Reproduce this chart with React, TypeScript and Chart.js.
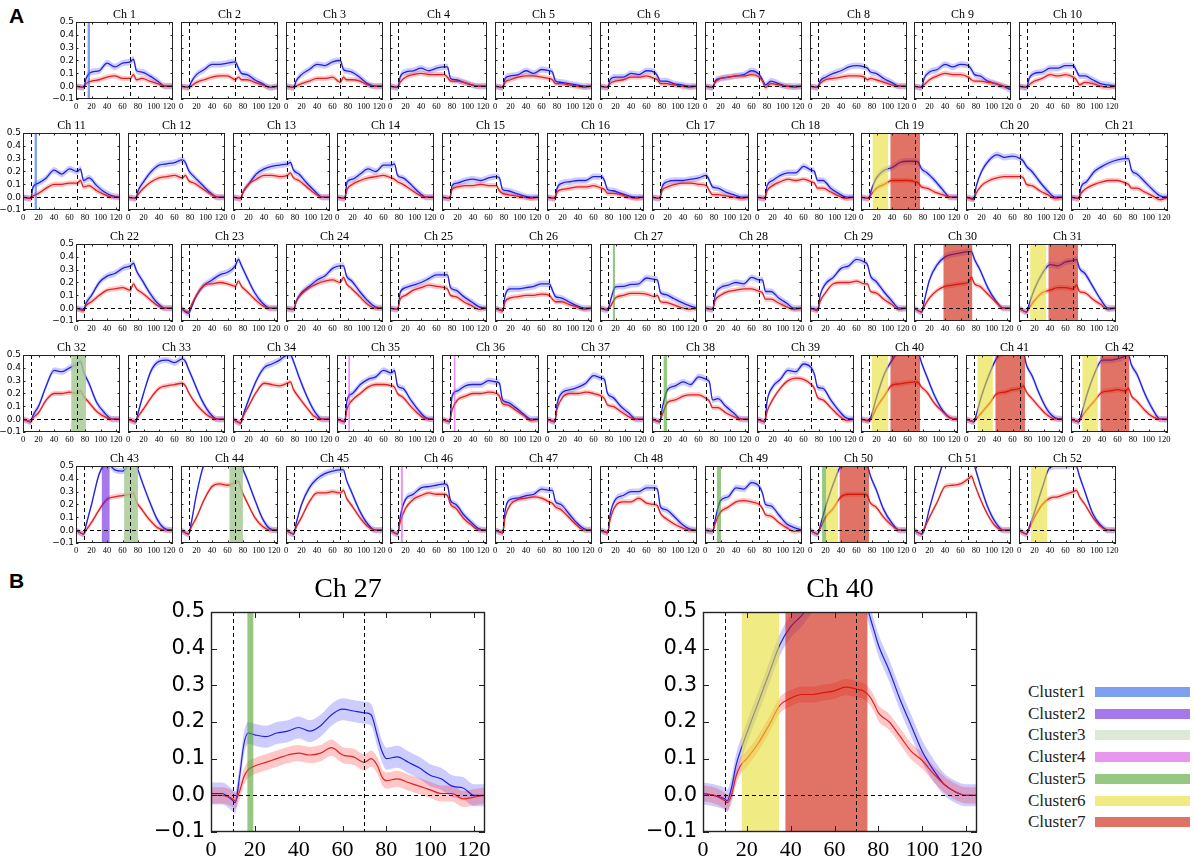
import React, { useEffect, useRef } from 'react';
import { Chart, registerables } from 'chart.js';

Chart.register(...registerables);

// ---- data ----
// sample times (s) for the small multiples
const SAMPLE_X = [0, 10, 13, 20, 30, 40, 50, 60, 70, 74, 78, 85, 95, 105, 115, 125];

// mean response per channel (Ch 1 .. Ch 52)
const blueMeans: number[][] = [
  [0, -0.01, 0.06, 0.11, 0.12, 0.18, 0.15, 0.18, 0.19, 0.21, 0.12, 0.11, 0.08, 0.04, 0.0, 0],
  [0, -0.01, 0.03, 0.09, 0.13, 0.17, 0.17, 0.18, 0.19, 0.14, 0.10, 0.09, 0.05, 0.02, -0.01, 0],
  [0, -0.01, 0.04, 0.09, 0.13, 0.17, 0.16, 0.19, 0.20, 0.13, 0.12, 0.11, 0.07, 0.02, 0.0, 0],
  [0, -0.01, 0.07, 0.11, 0.12, 0.14, 0.12, 0.14, 0.15, 0.15, 0.06, 0.05, 0.03, 0.01, 0.0, 0],
  [0, -0.01, 0.06, 0.08, 0.09, 0.12, 0.10, 0.13, 0.12, 0.11, 0.04, 0.03, 0.02, 0.01, 0.0, 0],
  [0, -0.01, 0.05, 0.07, 0.07, 0.10, 0.09, 0.12, 0.11, 0.08, 0.04, 0.04, 0.02, 0.01, 0.0, 0],
  [0, -0.01, 0.04, 0.06, 0.07, 0.08, 0.09, 0.12, 0.09, 0.05, 0.01, 0.04, 0.02, 0.0, 0.0, 0],
  [0, -0.01, 0.04, 0.07, 0.10, 0.12, 0.15, 0.16, 0.15, 0.14, 0.11, 0.10, 0.06, 0.03, 0.0, 0],
  [0, -0.01, 0.06, 0.11, 0.13, 0.17, 0.15, 0.17, 0.16, 0.13, 0.09, 0.08, 0.04, 0.02, 0.0, -0.03],
  [0, -0.01, 0.06, 0.10, 0.11, 0.14, 0.14, 0.16, 0.16, 0.12, 0.08, 0.08, 0.05, 0.02, 0.01, 0],
  [0, -0.01, 0.08, 0.11, 0.15, 0.21, 0.18, 0.22, 0.20, 0.22, 0.13, 0.15, 0.09, 0.04, 0.01, 0],
  [0, -0.01, 0.05, 0.12, 0.20, 0.25, 0.26, 0.27, 0.29, 0.27, 0.21, 0.16, 0.10, 0.04, 0.0, 0],
  [0, -0.01, 0.04, 0.10, 0.18, 0.22, 0.24, 0.25, 0.26, 0.27, 0.21, 0.18, 0.11, 0.05, 0.0, 0],
  [0, -0.01, 0.12, 0.14, 0.18, 0.22, 0.20, 0.25, 0.25, 0.26, 0.17, 0.15, 0.10, 0.04, 0.0, 0],
  [0, -0.01, 0.09, 0.11, 0.13, 0.14, 0.13, 0.15, 0.16, 0.15, 0.06, 0.05, 0.03, 0.01, 0.0, 0],
  [0, -0.01, 0.07, 0.11, 0.12, 0.13, 0.13, 0.16, 0.16, 0.13, 0.06, 0.05, 0.03, 0.01, 0.0, 0],
  [0, -0.01, 0.08, 0.12, 0.13, 0.13, 0.14, 0.15, 0.17, 0.13, 0.08, 0.07, 0.04, 0.02, 0.0, 0],
  [0, -0.01, 0.09, 0.13, 0.17, 0.19, 0.19, 0.24, 0.21, 0.20, 0.13, 0.13, 0.07, 0.03, 0.0, 0],
  [0, -0.01, 0.05, 0.15, 0.21, 0.23, 0.27, 0.28, 0.28, 0.27, 0.22, 0.19, 0.13, 0.06, 0.0, 0],
  [0, -0.01, 0.08, 0.20, 0.29, 0.33, 0.31, 0.32, 0.30, 0.28, 0.24, 0.20, 0.12, 0.05, 0.0, 0],
  [0, -0.01, 0.08, 0.12, 0.20, 0.24, 0.27, 0.29, 0.30, 0.30, 0.21, 0.18, 0.12, 0.06, 0.01, 0],
  [0, -0.01, 0.04, 0.10, 0.20, 0.25, 0.27, 0.31, 0.33, 0.35, 0.29, 0.22, 0.12, 0.04, 0.0, 0],
  [0, -0.04, 0.0, 0.10, 0.18, 0.22, 0.26, 0.28, 0.33, 0.38, 0.33, 0.24, 0.12, 0.04, 0.0, 0],
  [0, -0.01, 0.05, 0.12, 0.17, 0.22, 0.25, 0.31, 0.33, 0.33, 0.25, 0.21, 0.13, 0.06, 0.01, 0],
  [0, -0.01, 0.12, 0.16, 0.18, 0.20, 0.23, 0.26, 0.26, 0.26, 0.16, 0.14, 0.09, 0.05, 0.01, 0],
  [0, -0.02, 0.10, 0.15, 0.15, 0.16, 0.17, 0.19, 0.19, 0.14, 0.09, 0.08, 0.05, 0.02, 0.0, 0],
  [0, -0.015, 0.05, 0.165, 0.17, 0.185, 0.19, 0.235, 0.225, 0.22, 0.12, 0.105, 0.075, 0.045, 0.02, 0],
  [0, -0.01, 0.10, 0.16, 0.18, 0.20, 0.19, 0.24, 0.22, 0.22, 0.13, 0.13, 0.08, 0.04, 0.0, 0],
  [0, -0.01, 0.10, 0.19, 0.24, 0.31, 0.33, 0.38, 0.36, 0.34, 0.25, 0.21, 0.13, 0.06, 0.0, 0],
  [0, -0.03, 0.05, 0.22, 0.34, 0.40, 0.42, 0.43, 0.44, 0.44, 0.38, 0.30, 0.16, 0.06, 0.0, 0],
  [0, -0.03, 0.03, 0.15, 0.27, 0.34, 0.33, 0.36, 0.37, 0.38, 0.31, 0.27, 0.17, 0.07, 0.0, 0],
  [0, -0.02, 0.03, 0.10, 0.26, 0.38, 0.37, 0.40, 0.43, 0.45, 0.37, 0.28, 0.13, 0.05, 0.0, 0],
  [0, -0.02, 0.05, 0.20, 0.38, 0.45, 0.46, 0.44, 0.47, 0.45, 0.39, 0.29, 0.15, 0.05, 0.0, 0],
  [0, -0.03, 0.03, 0.15, 0.30, 0.40, 0.43, 0.46, 0.50, 0.50, 0.45, 0.33, 0.18, 0.06, 0.0, 0],
  [0, -0.02, 0.15, 0.20, 0.27, 0.31, 0.33, 0.38, 0.36, 0.38, 0.26, 0.24, 0.15, 0.07, 0.01, 0],
  [0, -0.02, 0.18, 0.22, 0.26, 0.27, 0.27, 0.30, 0.29, 0.28, 0.15, 0.13, 0.09, 0.04, 0.0, 0],
  [0, -0.02, 0.12, 0.21, 0.23, 0.25, 0.28, 0.34, 0.32, 0.31, 0.20, 0.17, 0.10, 0.05, 0.0, 0],
  [0, -0.02, 0.08, 0.23, 0.26, 0.29, 0.27, 0.33, 0.31, 0.29, 0.15, 0.16, 0.10, 0.05, 0.0, 0],
  [0, -0.02, 0.14, 0.25, 0.31, 0.38, 0.37, 0.43, 0.40, 0.35, 0.25, 0.24, 0.15, 0.07, 0.01, 0],
  [0, -0.01, 0.02, 0.17, 0.35, 0.46, 0.54, 0.58, 0.58, 0.52, 0.44, 0.33, 0.18, 0.07, 0.01, 0],
  [0, -0.02, 0.03, 0.18, 0.35, 0.48, 0.52, 0.53, 0.53, 0.52, 0.42, 0.34, 0.19, 0.07, 0.01, 0],
  [0, -0.02, 0.03, 0.18, 0.35, 0.46, 0.46, 0.47, 0.49, 0.50, 0.42, 0.35, 0.20, 0.08, 0.0, 0],
  [0, -0.03, 0.04, 0.20, 0.44, 0.52, 0.47, 0.46, 0.53, 0.55, 0.50, 0.38, 0.22, 0.08, 0.01, 0],
  [0, -0.03, 0.05, 0.28, 0.52, 0.58, 0.60, 0.60, 0.58, 0.56, 0.50, 0.40, 0.24, 0.09, 0.01, 0],
  [0, -0.03, 0.05, 0.20, 0.33, 0.40, 0.44, 0.46, 0.47, 0.47, 0.39, 0.29, 0.15, 0.05, 0.0, 0],
  [0, -0.03, 0.10, 0.24, 0.28, 0.33, 0.34, 0.35, 0.36, 0.35, 0.23, 0.20, 0.12, 0.06, 0.01, 0],
  [0, -0.02, 0.15, 0.24, 0.25, 0.27, 0.28, 0.32, 0.31, 0.31, 0.22, 0.20, 0.13, 0.06, 0.01, 0],
  [0, -0.02, 0.12, 0.24, 0.27, 0.30, 0.30, 0.33, 0.33, 0.32, 0.18, 0.16, 0.11, 0.05, 0.01, 0],
  [0, -0.01, 0.08, 0.23, 0.26, 0.33, 0.32, 0.37, 0.34, 0.29, 0.20, 0.19, 0.12, 0.05, 0.02, 0],
  [0, -0.03, 0.03, 0.18, 0.36, 0.50, 0.52, 0.52, 0.52, 0.50, 0.42, 0.32, 0.16, 0.06, 0.0, 0],
  [0, -0.03, 0.0, 0.17, 0.38, 0.56, 0.60, 0.62, 0.60, 0.57, 0.50, 0.36, 0.18, 0.06, 0.0, 0],
  [0, -0.03, 0.02, 0.14, 0.33, 0.49, 0.50, 0.50, 0.51, 0.50, 0.42, 0.30, 0.13, 0.04, 0.0, 0],
];

const redMeans: number[][] = [
  [0, -0.01, 0.02, 0.04, 0.05, 0.07, 0.08, 0.06, 0.06, 0.09, 0.05, 0.06, 0.04, 0.02, 0.0, 0],
  [0, -0.01, 0.0, 0.03, 0.05, 0.07, 0.08, 0.08, 0.05, 0.07, 0.05, 0.05, 0.03, 0.01, -0.01, 0],
  [0, -0.01, 0.0, 0.02, 0.04, 0.06, 0.06, 0.07, 0.03, 0.07, 0.05, 0.05, 0.04, 0.01, 0.0, 0],
  [0, -0.01, 0.03, 0.07, 0.09, 0.10, 0.09, 0.09, 0.09, 0.07, 0.04, 0.04, 0.03, 0.01, 0.0, 0],
  [0, -0.01, 0.03, 0.05, 0.07, 0.08, 0.08, 0.07, 0.06, 0.05, 0.02, 0.02, 0.01, 0.0, -0.01, 0],
  [0, -0.01, 0.02, 0.04, 0.05, 0.07, 0.07, 0.08, 0.06, 0.05, 0.02, 0.02, 0.01, 0.0, -0.01, 0],
  [0, -0.01, 0.03, 0.06, 0.07, 0.08, 0.08, 0.09, 0.07, 0.04, -0.01, 0.02, 0.01, 0.0, -0.01, 0],
  [0, -0.01, 0.02, 0.05, 0.06, 0.07, 0.08, 0.08, 0.07, 0.05, 0.06, 0.05, 0.03, 0.01, 0.0, 0],
  [0, -0.01, 0.01, 0.05, 0.08, 0.10, 0.09, 0.09, 0.07, 0.05, 0.04, 0.04, 0.03, 0.02, 0.0, -0.01],
  [0, -0.01, 0.01, 0.04, 0.06, 0.09, 0.08, 0.09, 0.07, 0.05, 0.01, 0.03, 0.02, 0.0, -0.01, 0],
  [0, -0.01, 0.01, 0.03, 0.07, 0.10, 0.10, 0.11, 0.11, 0.13, 0.08, 0.09, 0.05, 0.02, 0.0, 0],
  [0, -0.01, 0.02, 0.07, 0.12, 0.15, 0.16, 0.17, 0.15, 0.17, 0.13, 0.11, 0.07, 0.03, 0.0, 0],
  [0, -0.01, 0.04, 0.10, 0.14, 0.17, 0.17, 0.16, 0.17, 0.19, 0.15, 0.13, 0.08, 0.03, 0.0, 0],
  [0, -0.01, 0.06, 0.10, 0.13, 0.15, 0.16, 0.17, 0.15, 0.14, 0.12, 0.10, 0.06, 0.02, 0.0, 0],
  [0, -0.01, 0.06, 0.08, 0.09, 0.09, 0.10, 0.09, 0.09, 0.05, 0.03, 0.02, 0.01, 0.0, -0.01, 0],
  [0, -0.01, 0.04, 0.06, 0.07, 0.08, 0.08, 0.09, 0.07, 0.06, 0.03, 0.03, 0.02, 0.0, -0.01, 0],
  [0, -0.01, 0.05, 0.08, 0.10, 0.11, 0.11, 0.10, 0.09, 0.05, 0.02, 0.02, 0.01, 0.0, -0.01, 0],
  [0, -0.01, 0.05, 0.09, 0.12, 0.14, 0.13, 0.14, 0.12, 0.11, 0.07, 0.07, 0.04, 0.01, -0.01, 0],
  [0, -0.01, 0.02, 0.07, 0.10, 0.13, 0.13, 0.13, 0.12, 0.11, 0.08, 0.07, 0.04, 0.02, 0.0, 0],
  [0, -0.02, 0.03, 0.09, 0.13, 0.15, 0.16, 0.16, 0.16, 0.15, 0.10, 0.09, 0.05, 0.02, -0.01, 0],
  [0, -0.01, 0.03, 0.07, 0.10, 0.12, 0.13, 0.13, 0.11, 0.10, 0.07, 0.07, 0.04, 0.01, -0.02, 0],
  [0, -0.02, 0.02, 0.05, 0.10, 0.14, 0.15, 0.16, 0.14, 0.19, 0.15, 0.12, 0.07, 0.02, 0.0, 0],
  [0, -0.03, 0.02, 0.10, 0.18, 0.19, 0.20, 0.19, 0.17, 0.21, 0.17, 0.13, 0.07, 0.02, 0.0, 0],
  [0, -0.01, 0.05, 0.11, 0.16, 0.19, 0.21, 0.22, 0.20, 0.24, 0.19, 0.15, 0.09, 0.03, 0.0, 0],
  [0, -0.01, 0.07, 0.10, 0.14, 0.16, 0.18, 0.17, 0.16, 0.15, 0.10, 0.09, 0.05, 0.02, -0.01, 0],
  [0, -0.02, 0.05, 0.08, 0.09, 0.10, 0.10, 0.11, 0.10, 0.07, 0.05, 0.05, 0.03, 0.01, -0.01, 0],
  [0, -0.01, 0.01, 0.08, 0.10, 0.115, 0.115, 0.11, 0.09, 0.10, 0.05, 0.045, 0.025, 0.005, -0.01, 0],
  [0, -0.01, 0.06, 0.10, 0.13, 0.14, 0.15, 0.15, 0.13, 0.12, 0.07, 0.07, 0.04, 0.01, -0.01, 0],
  [0, -0.02, 0.05, 0.12, 0.19, 0.20, 0.20, 0.21, 0.19, 0.19, 0.13, 0.12, 0.07, 0.03, -0.01, 0],
  [0, -0.03, 0.01, 0.08, 0.14, 0.17, 0.18, 0.19, 0.20, 0.24, 0.19, 0.17, 0.11, 0.05, 0.0, 0],
  [0, -0.03, 0.0, 0.06, 0.12, 0.14, 0.16, 0.16, 0.15, 0.18, 0.13, 0.12, 0.07, 0.03, -0.01, 0],
  [0, -0.02, 0.01, 0.05, 0.15, 0.20, 0.20, 0.21, 0.20, 0.22, 0.18, 0.13, 0.06, 0.02, 0.0, 0],
  [0, -0.02, 0.02, 0.08, 0.17, 0.24, 0.26, 0.27, 0.28, 0.26, 0.21, 0.14, 0.07, 0.02, 0.0, 0],
  [0, -0.03, 0.02, 0.10, 0.21, 0.28, 0.27, 0.26, 0.28, 0.29, 0.23, 0.17, 0.09, 0.02, 0.0, 0],
  [0, -0.02, 0.08, 0.15, 0.20, 0.25, 0.27, 0.27, 0.26, 0.25, 0.20, 0.17, 0.10, 0.04, 0.0, 0],
  [0, -0.02, 0.07, 0.15, 0.18, 0.20, 0.20, 0.21, 0.20, 0.18, 0.12, 0.11, 0.07, 0.03, -0.01, 0],
  [0, -0.02, 0.08, 0.17, 0.20, 0.20, 0.21, 0.20, 0.18, 0.16, 0.11, 0.10, 0.06, 0.02, 0.0, 0],
  [0, -0.02, 0.03, 0.13, 0.15, 0.18, 0.19, 0.19, 0.16, 0.14, 0.09, 0.09, 0.05, 0.02, 0.0, 0],
  [0, -0.02, 0.06, 0.15, 0.24, 0.30, 0.32, 0.31, 0.27, 0.24, 0.17, 0.15, 0.09, 0.03, -0.01, 0],
  [0, -0.015, 0.0, 0.09, 0.18, 0.265, 0.275, 0.285, 0.29, 0.285, 0.25, 0.21, 0.12, 0.06, 0.01, 0],
  [0, -0.02, 0.0, 0.05, 0.12, 0.20, 0.21, 0.23, 0.24, 0.26, 0.21, 0.16, 0.09, 0.03, 0.0, 0],
  [0, -0.02, 0.01, 0.07, 0.14, 0.21, 0.22, 0.23, 0.22, 0.24, 0.18, 0.14, 0.07, 0.02, 0.0, 0],
  [0, -0.03, 0.0, 0.06, 0.16, 0.24, 0.26, 0.27, 0.28, 0.29, 0.22, 0.16, 0.08, 0.02, 0.0, 0],
  [0, -0.03, 0.02, 0.10, 0.24, 0.34, 0.36, 0.35, 0.37, 0.38, 0.31, 0.22, 0.10, 0.03, 0.0, 0],
  [0, -0.03, 0.02, 0.10, 0.22, 0.29, 0.29, 0.30, 0.29, 0.31, 0.25, 0.19, 0.10, 0.03, 0.0, 0],
  [0, -0.03, 0.06, 0.17, 0.24, 0.27, 0.29, 0.28, 0.28, 0.27, 0.20, 0.17, 0.09, 0.04, 0.0, 0],
  [0, -0.02, 0.10, 0.20, 0.24, 0.25, 0.26, 0.25, 0.22, 0.21, 0.18, 0.16, 0.10, 0.04, 0.0, 0],
  [0, -0.02, 0.08, 0.19, 0.22, 0.22, 0.25, 0.21, 0.20, 0.19, 0.13, 0.09, 0.05, 0.02, 0.0, 0],
  [0, -0.01, 0.05, 0.14, 0.18, 0.22, 0.23, 0.22, 0.20, 0.17, 0.12, 0.11, 0.06, 0.02, -0.01, 0],
  [0, -0.03, 0.01, 0.10, 0.17, 0.26, 0.28, 0.28, 0.28, 0.27, 0.21, 0.18, 0.10, 0.04, 0.0, 0],
  [0, -0.03, 0.01, 0.10, 0.22, 0.34, 0.35, 0.36, 0.40, 0.42, 0.36, 0.25, 0.12, 0.03, 0.0, 0],
  [0, -0.03, 0.01, 0.10, 0.20, 0.25, 0.26, 0.28, 0.30, 0.31, 0.26, 0.20, 0.10, 0.03, 0.0, 0],
];

// finer samples for the two enlarged panels (B)
const BIG_X = [0, 5, 10, 11, 13, 15, 17, 20, 25, 30, 35, 40, 45, 50, 55, 60, 65, 70, 73, 76, 78, 80, 85, 90, 95, 100, 105, 110, 115, 120, 125];
const ch27Blue = [0.005, 0.005, -0.015, -0.02, 0.05, 0.14, 0.17, 0.165, 0.16, 0.17, 0.175, 0.185, 0.175, 0.19, 0.22, 0.235, 0.23, 0.225, 0.22, 0.16, 0.12, 0.10, 0.105, 0.09, 0.075, 0.055, 0.045, 0.025, 0.02, 0.0, 0.0];
const ch27Red = [0, 0, -0.01, -0.015, 0.01, 0.05, 0.07, 0.08, 0.09, 0.10, 0.11, 0.115, 0.11, 0.115, 0.13, 0.11, 0.105, 0.09, 0.10, 0.08, 0.05, 0.04, 0.045, 0.035, 0.025, 0.015, 0.005, 0.005, -0.01, -0.005, 0];
const ch40Blue = [0.005, 0.0, -0.01, -0.015, 0.02, 0.08, 0.12, 0.17, 0.25, 0.33, 0.41, 0.46, 0.49, 0.53, 0.56, 0.58, 0.59, 0.58, 0.55, 0.49, 0.45, 0.41, 0.34, 0.26, 0.19, 0.12, 0.07, 0.03, 0.01, 0.0, 0.0];
const ch40Red = [0.005, 0.0, -0.015, -0.02, 0.0, 0.05, 0.08, 0.10, 0.14, 0.19, 0.245, 0.265, 0.275, 0.275, 0.28, 0.285, 0.295, 0.29, 0.285, 0.27, 0.25, 0.225, 0.20, 0.16, 0.12, 0.095, 0.06, 0.03, 0.01, 0.0, 0.0];

// half width of the shaded error band
const SEM_BLUE = 0.025;
const SEM_RED = 0.02;
const BIG_SEM_BLUE = 0.03;
const BIG_SEM_RED = 0.022;

const X_TICKS = [0, 20, 40, 60, 80, 100, 120];
const Y_TICKS = [-0.1, 0, 0.1, 0.2, 0.3, 0.4, 0.5];
const MARKER_X = [10, 70]; // task onset / offset

const CLUSTER_NAMES = ['Cluster1', 'Cluster2', 'Cluster3', 'Cluster4', 'Cluster5', 'Cluster6', 'Cluster7'];
const CLUSTER_COLORS = [
  'rgba(38, 97, 230, 0.6)',
  'rgba(105, 30, 222, 0.6)',
  'rgba(200, 217, 188, 0.6)',
  'rgba(217, 80, 227, 0.6)',
  'rgba(80, 163, 47, 0.6)',
  'rgba(230, 222, 47, 0.6)',
  'rgba(205, 22, 0, 0.6)',
];

type Span = { cluster: number; from: number; to: number };

// significant windows per channel (cluster index, time range)
const CHANNEL_SPANS: Record<number, Span[]> = {
  1: [{ cluster: 0, from: 15, to: 18 }],
  11: [{ cluster: 0, from: 15, to: 18 }],
  19: [{ cluster: 5, from: 15, to: 35 }, { cluster: 6, from: 38, to: 76 }],
  27: [{ cluster: 4, from: 16.6, to: 19.3 }],
  30: [{ cluster: 6, from: 38, to: 75 }],
  31: [{ cluster: 5, from: 14.5, to: 35 }, { cluster: 6, from: 38, to: 76 }],
  32: [{ cluster: 4, from: 62.5, to: 81 }, { cluster: 2, from: 62.5, to: 81 }],
  35: [{ cluster: 3, from: 14.5, to: 16.8 }],
  36: [{ cluster: 3, from: 15.2, to: 17.4 }],
  38: [{ cluster: 4, from: 15, to: 19.5 }],
  40: [{ cluster: 5, from: 14, to: 35 }, { cluster: 6, from: 38, to: 76 }],
  41: [{ cluster: 5, from: 14.8, to: 34.5 }, { cluster: 6, from: 38, to: 76 }],
  42: [{ cluster: 5, from: 14.8, to: 34.5 }, { cluster: 6, from: 38, to: 75 }],
  43: [{ cluster: 1, from: 33.3, to: 43.3 }, { cluster: 4, from: 62.3, to: 79.6 }, { cluster: 2, from: 62.3, to: 79.6 }],
  44: [{ cluster: 4, from: 62.7, to: 79.6 }, { cluster: 2, from: 62.7, to: 79.6 }],
  46: [{ cluster: 3, from: 14, to: 16.6 }],
  49: [{ cluster: 4, from: 15.4, to: 20.6 }],
  50: [{ cluster: 4, from: 15.6, to: 20.8 }, { cluster: 5, from: 20.8, to: 36 }, { cluster: 6, from: 38.2, to: 76 }],
  52: [{ cluster: 5, from: 15.4, to: 36.4 }],
};
const BIG27_SPANS: Span[] = [{ cluster: 4, from: 16.6, to: 19.3 }];
const BIG40_SPANS: Span[] = [{ cluster: 5, from: 17.7, to: 34.7 }, { cluster: 6, from: 37.6, to: 75 }];

// ---- layout ----
const ROW_SIZES = [10, 11, 10, 11, 10];
const ROW_LEFT = [76, 23, 76, 23, 76];
const ROW_TOP = [22, 133, 244, 355, 466];
const COL_STEP = 104.8;

interface Geometry {
  w: number; h: number; yAxisW: number; padRight: number;
  titleSize: number; titlePad: number; xAxisH: number;
  xFont: number; yFont: number; xPad: number; yPad: number;
  tickLen: number; lineWidth: number; dash: number[]; frameWidth: number;
}

const GEO_SMALL: Geometry = {
  w: 97, h: 77, yAxisW: 30, padRight: 8, titleSize: 12, titlePad: 1, xAxisH: 14,
  xFont: 8.5, yFont: 9, xPad: 3, yPad: 2, tickLen: 2.5, lineWidth: 1.3, dash: [4, 3], frameWidth: 1,
};
const GEO_BIG: Geometry = {
  w: 274, h: 220, yAxisW: 64, padRight: 22, titleSize: 28, titlePad: 8, xAxisH: 34,
  xFont: 22, yFont: 21, xPad: 5, yPad: 6, tickLen: 6, lineWidth: 1.2, dash: [4, 3], frameWidth: 1.4,
};

function makeDecor(spans: Span[], g: Geometry) {
  return {
    id: 'decor',
    afterDatasetsDraw(chart: Chart) {
      const { ctx, chartArea: a } = chart;
      const xs = chart.scales.x;
      const ys = chart.scales.y;
      ctx.save();
      spans.forEach((s) => {
        const x0 = xs.getPixelForValue(s.from);
        const x1 = xs.getPixelForValue(s.to);
        ctx.fillStyle = CLUSTER_COLORS[s.cluster];
        ctx.fillRect(x0, a.top, x1 - x0, a.bottom - a.top);
      });
      // dashed reference lines
      ctx.strokeStyle = '#000';
      ctx.lineWidth = 1;
      ctx.setLineDash(g.dash);
      ctx.beginPath();
      MARKER_X.forEach((v) => {
        const px = Math.round(xs.getPixelForValue(v)) + 0.5;
        ctx.moveTo(px, a.top);
        ctx.lineTo(px, a.bottom);
      });
      const zy = Math.round(ys.getPixelForValue(0)) + 0.5;
      ctx.moveTo(a.left, zy);
      ctx.lineTo(a.right, zy);
      ctx.stroke();
      ctx.setLineDash([]);
      // inward tick marks on all sides
      ctx.strokeStyle = '#222';
      ctx.beginPath();
      X_TICKS.forEach((v) => {
        const px = Math.round(xs.getPixelForValue(v)) + 0.5;
        ctx.moveTo(px, a.bottom);
        ctx.lineTo(px, a.bottom - g.tickLen);
        ctx.moveTo(px, a.top);
        ctx.lineTo(px, a.top + g.tickLen);
      });
      Y_TICKS.forEach((v) => {
        const py = Math.round(ys.getPixelForValue(v)) + 0.5;
        ctx.moveTo(a.left, py);
        ctx.lineTo(a.left + g.tickLen, py);
        ctx.moveTo(a.right, py);
        ctx.lineTo(a.right - g.tickLen, py);
      });
      ctx.stroke();
      // frame
      ctx.lineWidth = g.frameWidth;
      ctx.strokeStyle = '#222';
      ctx.strokeRect(a.left + 0.5, a.top + 0.5, a.right - a.left - 1, a.bottom - a.top - 1);
      ctx.restore();
    },
  };
}

interface PanelProps {
  title: string;
  xs: number[];
  blue: number[];
  red: number[];
  semBlue: number;
  semRed: number;
  spans: Span[];
  left: number;
  top: number;
  geo: Geometry;
  showYLabels: boolean;
}

const Panel: React.FC<PanelProps> = ({ title, xs, blue, red, semBlue, semRed, spans, left, top, geo, showYLabels }) => {
  const canvasRef = useRef<HTMLCanvasElement | null>(null);
  const chartRef = useRef<Chart | null>(null);
  const titleH = geo.titleSize + geo.titlePad;
  const cw = geo.yAxisW + geo.w + geo.padRight;
  const chh = titleH + geo.h + geo.xAxisH;

  useEffect(() => {
    if (!canvasRef.current) return;
    if (chartRef.current) chartRef.current.destroy();

    const pts = (vals: number[], off: number) => vals.map((v, i) => ({ x: xs[i], y: v + off }));
    const band = (vals: number[], sem: number, color: string, order: number) => [
      { data: pts(vals, sem), borderWidth: 0, borderColor: 'transparent', pointRadius: 0, fill: false, order },
      { data: pts(vals, -sem), borderWidth: 0, borderColor: 'transparent', backgroundColor: color, pointRadius: 0, fill: '-1', order },
    ];

    chartRef.current = new Chart(canvasRef.current, {
      type: 'line',
      data: {
        datasets: [
          ...band(blue, semBlue, 'rgba(0, 0, 255, 0.2)', 3),
          ...band(red, semRed, 'rgba(255, 0, 0, 0.22)', 2),
          { data: pts(blue, 0), borderColor: '#2020e0', borderWidth: geo.lineWidth, pointRadius: 0, fill: false, order: 1 },
          { data: pts(red, 0), borderColor: '#e02020', borderWidth: geo.lineWidth, pointRadius: 0, fill: false, order: 0 },
        ] as any,
      },
      options: {
        responsive: false,
        animation: false,
        events: [],
        layout: { padding: { left: 0, right: geo.padRight, top: 0, bottom: 0 } },
        elements: { line: { cubicInterpolationMode: 'monotone' } },
        plugins: {
          legend: { display: false },
          tooltip: { enabled: false },
          title: {
            display: true,
            text: title,
            fullSize: false,
            color: '#000',
            font: { family: 'Liberation Serif', size: geo.titleSize, weight: 'normal', lineHeight: 1 },
            padding: { top: 0, bottom: geo.titlePad },
          },
        },
        scales: {
          x: {
            type: 'linear',
            min: 0,
            max: 125,
            afterBuildTicks: (s: any) => { s.ticks = X_TICKS.map((value) => ({ value })); },
            afterFit: (s: any) => { s.height = geo.xAxisH; },
            grid: { display: false, drawTicks: false },
            border: { display: false },
            ticks: {
              autoSkip: false,
              maxRotation: 0,
              padding: geo.xPad,
              color: '#000',
              font: { family: 'Liberation Serif', size: geo.xFont },
              callback: (v: any) => String(v),
            },
          },
          y: {
            type: 'linear',
            min: -0.1,
            max: 0.5,
            afterBuildTicks: (s: any) => { s.ticks = Y_TICKS.map((value) => ({ value })); },
            afterFit: (s: any) => { s.width = geo.yAxisW; },
            grid: { display: false, drawTicks: false },
            border: { display: false },
            ticks: {
              display: showYLabels,
              autoSkip: false,
              padding: geo.yPad,
              color: '#000',
              font: { family: 'DejaVu Sans', size: geo.yFont },
              callback: (v: any) => {
                const n = Number(v);
                return (Math.abs(n) < 1e-9 ? 0 : n).toFixed(1).replace('-', '\u2212');
              },
            },
          },
        },
      } as any,
      plugins: [makeDecor(spans, geo)],
    });

    return () => {
      if (chartRef.current) {
        chartRef.current.destroy();
        chartRef.current = null;
      }
    };
  }, [title, xs, blue, red, semBlue, semRed, spans, geo, showYLabels]);

  return (
    <canvas
      ref={canvasRef}
      width={cw}
      height={chh}
      style={{ position: 'absolute', left: Math.round(left) - geo.yAxisW, top: top - titleH, width: cw, height: chh }}
    />
  );
};

const NO_SPANS: Span[] = [];

export default function App() {
  const panels: React.ReactNode[] = [];
  let ch = 0;
  ROW_SIZES.forEach((count, row) => {
    for (let col = 0; col < count; col++) {
      const n = ch + 1;
      panels.push(
        <Panel
          key={n}
          title={`Ch ${n}`}
          xs={SAMPLE_X}
          blue={blueMeans[ch]}
          red={redMeans[ch]}
          semBlue={SEM_BLUE}
          semRed={SEM_RED}
          spans={CHANNEL_SPANS[n] || NO_SPANS}
          left={ROW_LEFT[row] + col * COL_STEP}
          top={ROW_TOP[row]}
          geo={GEO_SMALL}
          showYLabels={col === 0}
        />,
      );
      ch++;
    }
  });

  const panelLabel: React.CSSProperties = {
    position: 'absolute',
    left: 9,
    fontFamily: 'Liberation Sans, Arial, sans-serif',
    fontWeight: 'bold',
    fontSize: 21,
    lineHeight: '21px',
    color: '#000',
  };

  return (
    <div style={{ position: 'absolute', left: 0, top: 0, width: 1196, height: 867, background: '#fff', overflow: 'hidden' }}>
      <div style={{ ...panelLabel, top: 5 }}>A</div>
      {panels}
      <div style={{ ...panelLabel, top: 570 }}>B</div>
      <Panel
        title="Ch 27"
        xs={BIG_X}
        blue={ch27Blue}
        red={ch27Red}
        semBlue={BIG_SEM_BLUE}
        semRed={BIG_SEM_RED}
        spans={BIG27_SPANS}
        left={211}
        top={612}
        geo={GEO_BIG}
        showYLabels
      />
      <Panel
        title="Ch 40"
        xs={BIG_X}
        blue={ch40Blue}
        red={ch40Red}
        semBlue={BIG_SEM_BLUE}
        semRed={BIG_SEM_RED}
        spans={BIG40_SPANS}
        left={703}
        top={612}
        geo={GEO_BIG}
        showYLabels
      />
      {CLUSTER_NAMES.map((name, i) => (
        <div
          key={name}
          style={{ position: 'absolute', left: 1028, top: 692 + i * 21.7 - 11, height: 22, display: 'flex', alignItems: 'center' }}
        >
          <span style={{ fontFamily: 'Liberation Serif', fontSize: 17, width: 67, color: '#222' }}>{name}</span>
          <span style={{ width: 95, height: 10, background: CLUSTER_COLORS[i] }} />
        </div>
      ))}
    </div>
  );
}
